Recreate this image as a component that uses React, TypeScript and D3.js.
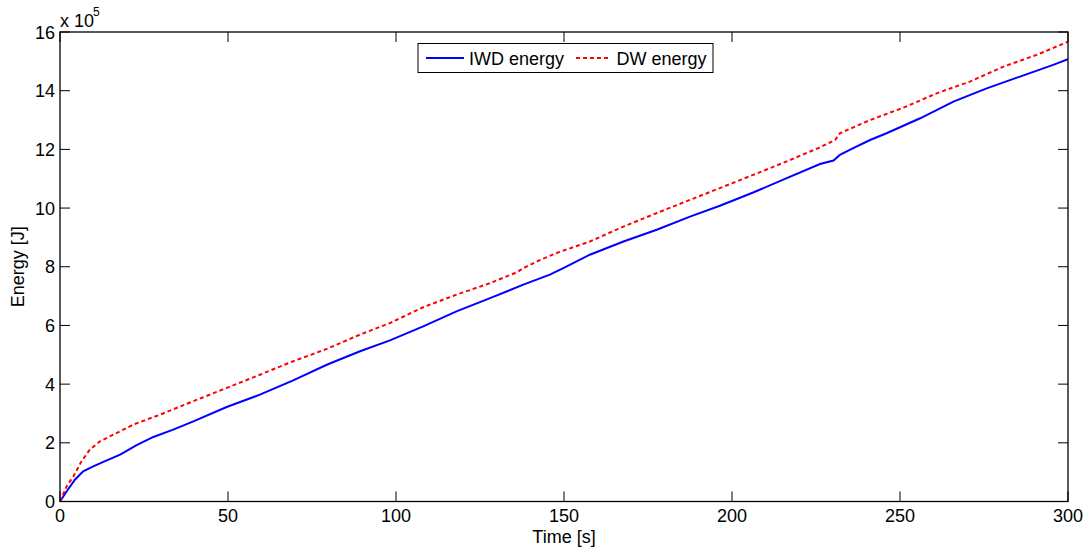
import React from "react";
import * as d3 from "d3";

const iwdTime = [0, 2, 4.5, 6.9, 9.9, 12.9, 17.9, 22.8, 27.8, 33.7, 39.7, 49.6, 59.5, 69.4, 79.4, 89.3, 98.2, 108.1, 118.0, 128.0, 137.9, 145.8, 149.8, 157.7, 167.7, 177.6, 187.5, 196.4, 206.3, 216.3, 226.2, 230.2, 232.1, 236.1, 241.1, 246.0, 256.0, 265.9, 275.8, 285.7, 295.6, 300];
const iwdEnergy = [0, 0.35, 0.75, 1.03, 1.2, 1.35, 1.6, 1.92, 2.2, 2.45, 2.73, 3.22, 3.64, 4.13, 4.66, 5.12, 5.49, 5.97, 6.48, 6.93, 7.39, 7.73, 7.95, 8.41, 8.86, 9.26, 9.71, 10.08, 10.53, 11.02, 11.5, 11.62, 11.81, 12.04, 12.32, 12.55, 13.06, 13.63, 14.08, 14.48, 14.88, 15.07];

const dwTime = [0, 2, 4, 6.4, 8.9, 11.9, 15.9, 21.8, 29.8, 39.7, 49.6, 59.5, 69.4, 79.4, 89.3, 98.2, 108.1, 118.0, 128.0, 135.9, 137.9, 141.9, 147.8, 157.7, 167.7, 177.6, 187.5, 196.4, 206.3, 216.3, 226.2, 230.7, 232.1, 241.1, 251.0, 260.9, 270.8, 280.8, 290.7, 300];
const dwEnergy = [0, 0.52, 0.86, 1.37, 1.77, 2.05, 2.28, 2.62, 2.96, 3.42, 3.87, 4.32, 4.78, 5.2, 5.69, 6.08, 6.62, 7.05, 7.44, 7.81, 7.95, 8.18, 8.47, 8.86, 9.37, 9.83, 10.28, 10.68, 11.13, 11.59, 12.07, 12.32, 12.55, 13.0, 13.42, 13.91, 14.31, 14.82, 15.22, 15.67];

const xTicks = [0, 50, 100, 150, 200, 250, 300];
const yTicks = [0, 2, 4, 6, 8, 10, 12, 14, 16];

const W = 1089;
const H = 549;
const L = 60, R = 1068, T = 32, B = 501.5;
const FONT = "'Liberation Sans', Arial, sans-serif";

export default function App() {
  const x = d3.scaleLinear().domain([0, 300]).range([L, R]);
  const y = d3.scaleLinear().domain([0, 16]).range([B, T]);
  const line = d3.line<[number, number]>().x(d => x(d[0])).y(d => y(d[1]));
  const iwd = iwdTime.map((t, i) => [t, iwdEnergy[i]] as [number, number]);
  const dw = dwTime.map((t, i) => [t, dwEnergy[i]] as [number, number]);
  const tl = 10;
  return (
    <svg width={W} height={H} style={{ position: "absolute", left: 0, top: 0, background: "#fff" }} fontFamily={FONT}>
      <rect x={0} y={0} width={W} height={H} fill="#fff" />
      <defs>
        <clipPath id="clip"><rect x={L} y={T} width={R - L} height={B - T} /></clipPath>
      </defs>
      <g clipPath="url(#clip)">
        <path d={line(iwd) || ""} fill="none" stroke="#0000ff" strokeWidth={2} />
        <path d={line(dw) || ""} fill="none" stroke="#ff0000" strokeWidth={2} strokeDasharray="4,3" />
      </g>
      {/* axes box */}
      <rect x={L} y={T} width={R - L} height={B - T} fill="none" stroke="#000" strokeWidth={1.3} />
      {xTicks.map(t => (
        <g key={"x" + t}>
          <line x1={x(t)} x2={x(t)} y1={B} y2={B - tl} stroke="#000" strokeWidth={1} />
          <line x1={x(t)} x2={x(t)} y1={T} y2={T + tl} stroke="#000" strokeWidth={1} />
          <text x={x(t)} y={522} fontSize={18} textAnchor="middle" fill="#000">{t}</text>
        </g>
      ))}
      {yTicks.map(v => (
        <g key={"y" + v}>
          <line x1={L} x2={L + tl} y1={y(v)} y2={y(v)} stroke="#000" strokeWidth={1} />
          <line x1={R} x2={R - tl} y1={y(v)} y2={y(v)} stroke="#000" strokeWidth={1} />
          <text x={55} y={y(v) + 6.5} fontSize={18} textAnchor="end" fill="#000">{v}</text>
        </g>
      ))}
      <text x={60} y={27} fontSize={18} fill="#000">x 10</text>
      <text x={93} y={16} fontSize={12} fill="#000">5</text>
      <text x={(L + R) / 2} y={543} fontSize={18} textAnchor="middle" fill="#000">Time [s]</text>
      <text transform={`translate(24,${(T + B) / 2}) rotate(-90)`} fontSize={18} textAnchor="middle" fill="#000">Energy [J]</text>
      {/* legend */}
      <rect x={418} y={43.5} width={295} height={29} fill="#fff" stroke="#000" strokeWidth={1} />
      <line x1={426} x2={464} y1={58} y2={58} stroke="#0000ff" strokeWidth={2} />
      <text x={469} y={64.5} fontSize={18} fill="#000">IWD energy</text>
      <line x1={576} x2={609} y1={58} y2={58} stroke="#ff0000" strokeWidth={2} strokeDasharray="4,3" />
      <text x={616.5} y={64.5} fontSize={18} fill="#000">DW energy</text>
    </svg>
  );
}
